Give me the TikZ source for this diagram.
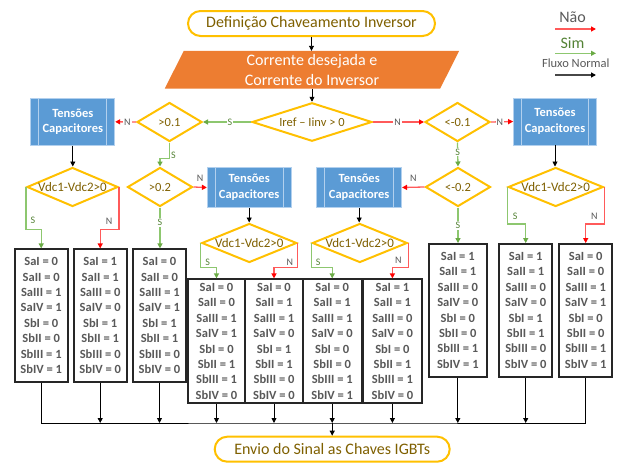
\documentclass[tikz,border=0pt]{standalone}
\usepackage{fontspec}
\setmainfont{Carlito}
\usetikzlibrary{shapes.geometric,arrows.meta,backgrounds,calc}

\definecolor{ygold}{HTML}{FFC000}
\definecolor{tgold}{HTML}{7F6000}
\definecolor{orangef}{HTML}{ED7D31}
\definecolor{bluef}{HTML}{5B9BD5}
\definecolor{bluel}{HTML}{B2D0EE}
\definecolor{txtgray}{HTML}{595959}
\definecolor{redl}{HTML}{FF5A5A}
\definecolor{redh}{HTML}{FF0000}
\definecolor{greenl}{HTML}{8DC76F}
\definecolor{greenh}{HTML}{6AAA45}
\definecolor{greent}{HTML}{548235}
\definecolor{boxline}{HTML}{262626}

% eight switch states of one output box
\newcommand{\swtab}[8]{SaI = #1\\SaII = #2\\SaIII = #3\\SaIV = #4\\SbI = #5\\SbII = #6\\SbIII = #7\\SbIV = #8}

\begin{document}
\begin{tikzpicture}[x=1pt,y=-1pt,
  term/.style={draw=ygold, line width=2pt, rounded corners=12.5pt, fill=white,
    text=tgold, font=\fontsize{16}{19}\selectfont, inner sep=0pt, minimum height=25pt},
  inbox/.style={rectangle, inner sep=0pt, minimum width=275pt, minimum height=37.3pt,
    text=white, align=center, font=\fontsize{16}{20}\selectfont},
  dia/.style={shape=diamond, draw=ygold, line width=2pt, fill=white, inner sep=0pt},
  dsmall/.style={dia, minimum width=65pt, minimum height=39pt},
  dvdc/.style={dia, minimum width=95pt, minimum height=39pt},
  dtext/.style={text=tgold, inner sep=0pt, font=\fontsize{12.5}{15}\selectfont},
  dtextv/.style={text=tgold, inner sep=0pt, font=\fontsize{13}{15}\selectfont},
  tens/.style={rectangle, fill=bluef, draw=bluel, line width=0.7pt, inner sep=0pt,
    minimum width=84pt, text=white, align=center,
    font=\bfseries\fontsize{12.5}{15.6}\selectfont,
    path picture={\draw[bluel, line width=0.9pt]
      ([xshift=8pt]path picture bounding box.north west) --
      ([xshift=8pt]path picture bounding box.south west)
      ([xshift=-8pt]path picture bounding box.north east) --
      ([xshift=-8pt]path picture bounding box.south east);}},
  res/.style={rectangle, draw=boxline, line width=1.8pt, fill=white, inner sep=0pt,
    text=txtgray, align=center, font=\bfseries\fontsize{12.5}{15.4}\selectfont},
  resT/.style={res, minimum width=53pt, minimum height=132.4pt},
  resM/.style={res, minimum height=124pt},
  lab/.style={font=\fontsize{10}{12}\selectfont, inner sep=1pt},
  labS/.style={lab, text=greent},
  labN/.style={lab, text=txtgray},
  nflow/.style={draw=black, line width=0.9pt, -{Triangle[length=5pt,width=5pt]}},
  sflow/.style={draw=greenl, line width=1.3pt, -{Triangle[length=5pt,width=5pt,color=greenh]}},
  rflow/.style={draw=redl, line width=1.3pt, -{Triangle[length=5pt,width=5pt,color=redh]}},
  bus/.style={draw=black, line width=0.9pt}
]
\useasboundingbox (0,0) rectangle (622,463);

% ---- start, input and first test
\node[term, minimum width=247pt] (tStart) at (311.5,23.5) {Definição Chaveamento Inversor};
\node[inbox] (inp) at (312,69.65) {Corrente desejada e\\Corrente do Inversor};
\begin{scope}[on background layer]
  \fill[orangef] ([xshift=-9.5pt]inp.south west) -- ([xshift=9.5pt]inp.north west)
    -- ([xshift=9.5pt]inp.north east) -- ([xshift=-9.5pt]inp.south east) -- cycle;
\end{scope}
\node[dia, minimum width=120pt, minimum height=38.5pt,
  label={[dtext]center:{Iref – Iinv > 0}}] (dI) at (312,122) {};

% ---- threshold tests
\node[dsmall, label={[dtext]center:{>0.1}}] (d01) at (169.5,122) {};
\node[dsmall, label={[dtext]center:{>0.2}}] (d02) at (160,187) {};
\node[dsmall, label={[dtext]center:{<-0.1}}] (dm01) at (457.5,122) {};
\node[dsmall, label={[dtext]center:{<-0.2}}] (dm02) at (458,187) {};

% ---- capacitor voltage blocks
\node[tens, minimum height=47pt] (tL) at (72.8,121.8) {Tensões\\Capacitores};
\node[tens, minimum height=47pt, minimum width=83pt] (tR) at (555,121.5) {Tensões\\Capacitores};
\node[tens, minimum height=40pt] (tML) at (249.2,187.5) {Tensões\\Capacitores};
\node[tens, minimum height=40pt, minimum width=85pt] (tMR) at (359.2,187.5) {Tensões\\Capacitores};

% ---- capacitor balance tests
\node[dvdc, minimum width=91pt, label={[dtextv]center:{Vdc1-Vdc2>0}}] (vL) at (72.5,187) {};
\node[dvdc, label={[dtextv]center:{Vdc1-Vdc2>0}}] (vML) at (249.3,243) {};
\node[dvdc, label={[dtextv]center:{Vdc1-Vdc2>0}}] (vMR) at (359.8,243) {};
\node[dvdc, label={[dtextv]center:{Vdc1-Vdc2>0}}] (vR) at (555.7,187) {};

% ---- switching states
\node[resT] (b1) at (41.2,315.5) {\swtab{0}{0}{1}{1}{0}{0}{1}{1}};
\node[resT] (b2) at (100.2,315.5) {\swtab{1}{1}{0}{0}{1}{1}{0}{0}};
\node[resT] (b3) at (159.5,315.5) {\swtab{0}{0}{1}{1}{1}{1}{0}{0}};
\node[resM, minimum width=57.5pt] (b4) at (216.5,341.3) {\swtab{0}{0}{1}{1}{0}{1}{1}{0}};
\node[resM, minimum width=57.5pt] (b5) at (274,341.3) {\swtab{0}{1}{1}{0}{1}{1}{0}{0}};
\node[resM, minimum width=59pt] (b6) at (332.2,341.3) {\swtab{0}{1}{1}{0}{0}{0}{1}{1}};
\node[resM, minimum width=58.4pt] (b7) at (392.4,341.3) {\swtab{1}{1}{0}{0}{0}{1}{1}{0}};
\node[res, minimum width=57.7pt, minimum height=132.7pt] (b8) at (457.8,310.3) {\swtab{1}{1}{0}{0}{0}{0}{1}{1}};
\node[res, minimum width=53.3pt, minimum height=132.7pt] (b9) at (525.7,310.3) {\swtab{1}{1}{0}{0}{1}{1}{0}{0}};
\node[res, minimum width=53.3pt, minimum height=132.7pt] (b10) at (585.7,310.3) {\swtab{0}{0}{1}{1}{0}{0}{1}{1}};

% ---- end
\node[term, minimum width=235pt] (tEnd) at (332.2,449.2) {Envio do Sinal as Chaves IGBTs};

% ---- main flow
\draw[nflow] (tStart.south) -- (tStart.south |- inp.north);
\draw[nflow] (inp.south -| dI.north) -- (dI.north);
\draw[sflow] (dI.west) -- node[labS, fill=white, pos=.44]{S} (d01.east);
\draw[rflow] (dI.east) -- node[labN, fill=white, pos=.48]{N} (dm01.west);

% positive branch
\draw[rflow] (d01.west) -- node[labN, fill=white, pos=.41]{N} (tL.east);
\draw[sflow] (d01.south) -- node[labS, right=0pt, pos=.8]{S} ([yshift=-16pt]d01.south) -| (d02.north);
\draw[rflow] (d02.east) -- node[labN, above=4pt, midway]{N} (tML.west);
\draw[sflow] (d02.south) -- node[labS, fill=white, pos=.36]{S} (d02.south |- b3.north);
\draw[nflow] (tL.south) -- (tL.south |- vL.north);
\draw[nflow] (tML.south) -- (tML.south |- vML.north);

% negative branch
\draw[rflow] (dm01.east) -- node[labN, fill=white, pos=.4]{N} (tR.west);
\draw[sflow] (dm01.south) -- node[labS, fill=white, pos=.4]{S} (dm02.north);
\draw[rflow] (dm02.west) -- node[labN, above=4pt, midway]{N} (tMR.east);
\draw[sflow] (dm02.south) -- node[labS, fill=white, pos=.51]{S} (dm02.south |- b8.north);
\draw[nflow] (tR.south) -- (tR.south |- vR.north);
\draw[nflow] (tMR.south) -- (tMR.south |- vMR.north);

% balance test outcomes
\draw[sflow] (vL.west) -- node[labS, right=3pt, pos=.78]{S} ([yshift=19pt]vL.west |- b1.north) -| (b1.north);
\draw[rflow] (vL.east) -- node[labN, left=5pt, pos=.82]{N} ([yshift=19pt]vL.east |- b2.north) -| (b2.north);
\draw[sflow] (vML.west) -- node[labS, right=3pt, pos=.78]{S} ([yshift=11pt]vML.west |- b4.north) -| (b4.north);
\draw[rflow] (vML.east) -- node[labN, left=3pt, pos=.78]{N} ([yshift=11pt]vML.east |- b5.north) -| (b5.north);
\draw[sflow] (vMR.west) -- node[labS, right=3pt, pos=.78]{S} ([yshift=11pt]vMR.west |- b6.north) -| (b6.north);
\draw[rflow] (vMR.east) -- node[labN, left=5pt, pos=.7]{N} ([yshift=11pt]vMR.east |- b7.north) -| (b7.north);
\draw[sflow] (vR.west) -- node[labS, right=4pt, pos=.8]{S} ([yshift=19pt]vR.west |- b9.north) -| (b9.north);
\draw[rflow] (vR.east) -- node[labN, left=5pt, pos=.78]{N} ([yshift=19pt]vR.east |- b10.north) -| (b10.north);

% ---- collecting bus
\coordinate (busc) at (332.2,423);
\draw[bus] (b1.south) |- (busc) -| (b10.south);
\foreach \b in {b2,b3,b4,b5,b6,b7,b8,b9}
  \draw[nflow] (\b.south) -- (\b.south |- busc);
\draw[nflow] (busc) -- (tEnd.north);

% ---- legend
\node[text=txtgray, font=\fontsize{16}{19}\selectfont, inner sep=0pt] (lgNao) at (572.5,17) {Não};
\coordinate (lgRa) at (555,29); \coordinate (lgRb) at (596,29);
\draw[rflow] (lgRa) -- (lgRb);
\node[text=greent, font=\fontsize{16}{19}\selectfont, inner sep=0pt] (lgSim) at (572.5,43) {Sim};
\coordinate (lgGa) at (555,53.3); \coordinate (lgGb) at (596,53.3);
\draw[sflow] (lgGa) -- (lgGb);
\node[text=txtgray, font=\fontsize{12.5}{15}\selectfont, inner sep=0pt] (lgFlux) at (575.8,63.5) {Fluxo Normal};
\coordinate (lgKa) at (555,75); \coordinate (lgKb) at (596,75);
\draw[draw=txtgray!80!black, line width=1.3pt, -{Triangle[length=5pt,width=5pt,color=black]}] (lgKa) -- (lgKb);
\end{tikzpicture}
\end{document}
